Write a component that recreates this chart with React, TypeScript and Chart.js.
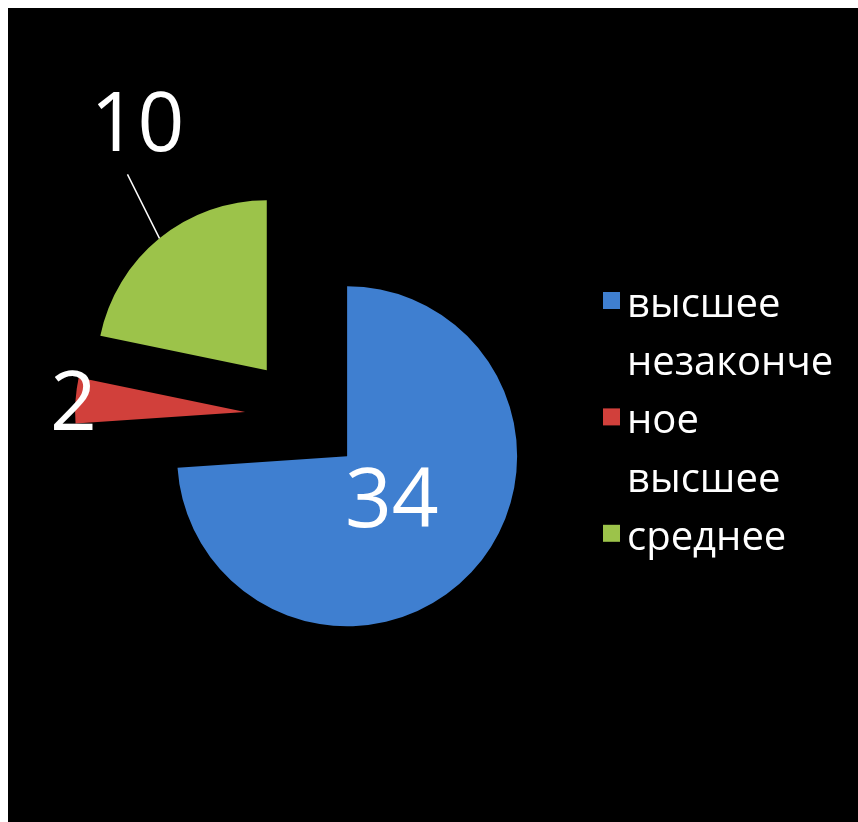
import React, { useEffect, useRef } from "react";
import { Chart, registerables } from "chart.js";

Chart.register(...registerables);

const categories = ["высшее", "незаконченое высшее", "среднее"];
const values = [34, 2, 10];
const colors = ["#3F7FD0", "#D1403B", "#9CC34A"];

const FONT = "'Open Sans', 'DejaVu Sans', sans-serif";
const EXPLODE = 59; // pixel displacement of every slice from the centre
const RADIUS = 170;

function wrapText(ctx: CanvasRenderingContext2D, text: string, maxW: number): string[] {
  const lines: string[] = [];
  let cur = "";
  for (const word of text.split(" ")) {
    const tryLine = cur ? cur + " " + word : word;
    if (ctx.measureText(tryLine).width <= maxW) {
      cur = tryLine;
      continue;
    }
    if (cur) lines.push(cur);
    cur = "";
    let piece = "";
    for (const ch of word) {
      if (ctx.measureText(piece + ch).width > maxW && piece) {
        lines.push(piece);
        piece = ch;
      } else piece += ch;
    }
    cur = piece;
  }
  if (cur) lines.push(cur);
  return lines;
}

// explode every slice outwards along its mid angle
const explodePlugin = {
  id: "explode",
  afterDatasetsUpdate(chart: any) {
    const meta = chart.getDatasetMeta(0);
    meta.data.forEach((arc: any) => {
      const mid = (arc.startAngle + arc.endAngle) / 2;
      arc.x += Math.cos(mid) * EXPLODE;
      arc.y += Math.sin(mid) * EXPLODE;
    });
  },
};

const labelsPlugin = {
  id: "pieLabels",
  afterDatasetsDraw(chart: any) {
    const ctx: CanvasRenderingContext2D = chart.ctx;
    const meta = chart.getDatasetMeta(0);
    const size = 82;
    ctx.save();
    ctx.fillStyle = "#ffffff";
    ctx.font = `${size}px ${FONT}`;
    ctx.textAlign = "center";
    ctx.textBaseline = "alphabetic";
    meta.data.forEach((arc: any, i: number) => {
      const { x, y, startAngle, endAngle, outerRadius } = arc;
      const mid = (startAngle + endAngle) / 2;
      const text = String(values[i]);
      let lx: number, ly: number;
      if (i === 0) {
        lx = x + Math.cos(mid) * outerRadius * 0.36;
        ly = y + Math.sin(mid) * outerRadius * 0.36;
      } else if (i === 1) {
        lx = x + Math.cos(mid) * (outerRadius + 2);
        ly = y + Math.sin(mid) * (outerRadius + 2);
      } else {
        const sx = x + Math.cos(mid) * outerRadius;
        const sy = y + Math.sin(mid) * outerRadius;
        const ex = sx - 32;
        const ey = sy - 64;
        ctx.strokeStyle = "#ffffff";
        ctx.lineWidth = 1.5;
        ctx.beginPath();
        ctx.moveTo(sx, sy);
        ctx.lineTo(ex, ey);
        ctx.stroke();
        lx = ex + 10;
        ly = ey - 53;
      }
      ctx.fillText(text, lx, ly + size * 0.357);
    });
    ctx.restore();
  },
};

const legendPlugin = {
  id: "sideLegend",
  afterDraw(chart: any) {
    const ctx: CanvasRenderingContext2D = chart.ctx;
    const fontSize = 40;
    const lineH = 58.2;
    const textX = 619;
    const boxX = 595;
    const box = 17;
    let baseline = 309;
    ctx.save();
    ctx.font = `${fontSize}px ${FONT}`;
    ctx.textAlign = "left";
    ctx.textBaseline = "alphabetic";
    categories.forEach((cat, i) => {
      const lines = wrapText(ctx, cat, 215);
      const markLine = Math.floor((lines.length - 1) / 2);
      lines.forEach((ln, j) => {
        const by = baseline + j * lineH;
        if (j === markLine) {
          ctx.fillStyle = colors[i];
          ctx.fillRect(boxX, by - 25, box, box);
        }
        ctx.fillStyle = "#ffffff";
        ctx.fillText(ln, textX, by);
      });
      baseline += lines.length * lineH;
    });
    ctx.restore();
  },
};

export default function App() {
  const ref = useRef<HTMLCanvasElement | null>(null);
  useEffect(() => {
    if (!ref.current) return;
    const chart = new Chart(ref.current, {
      type: "pie",
      data: {
        labels: categories,
        datasets: [
          {
            data: values,
            backgroundColor: colors,
            borderWidth: 0,
          },
        ],
      },
      options: {
        animation: false,
        responsive: true,
        maintainAspectRatio: false,
        radius: RADIUS,
        layout: { padding: { left: 0, right: 258, top: 2, bottom: 0 } },
        plugins: { legend: { display: false }, tooltip: { enabled: false } },
      },
      plugins: [explodePlugin, labelsPlugin, legendPlugin],
    });
    return () => chart.destroy();
  }, []);
  return (
    <div
      style={{
        position: "fixed",
        left: 8,
        top: 8,
        width: 850,
        height: 814,
        background: "#000",
      }}
    >
      <canvas ref={ref} />
    </div>
  );
}
